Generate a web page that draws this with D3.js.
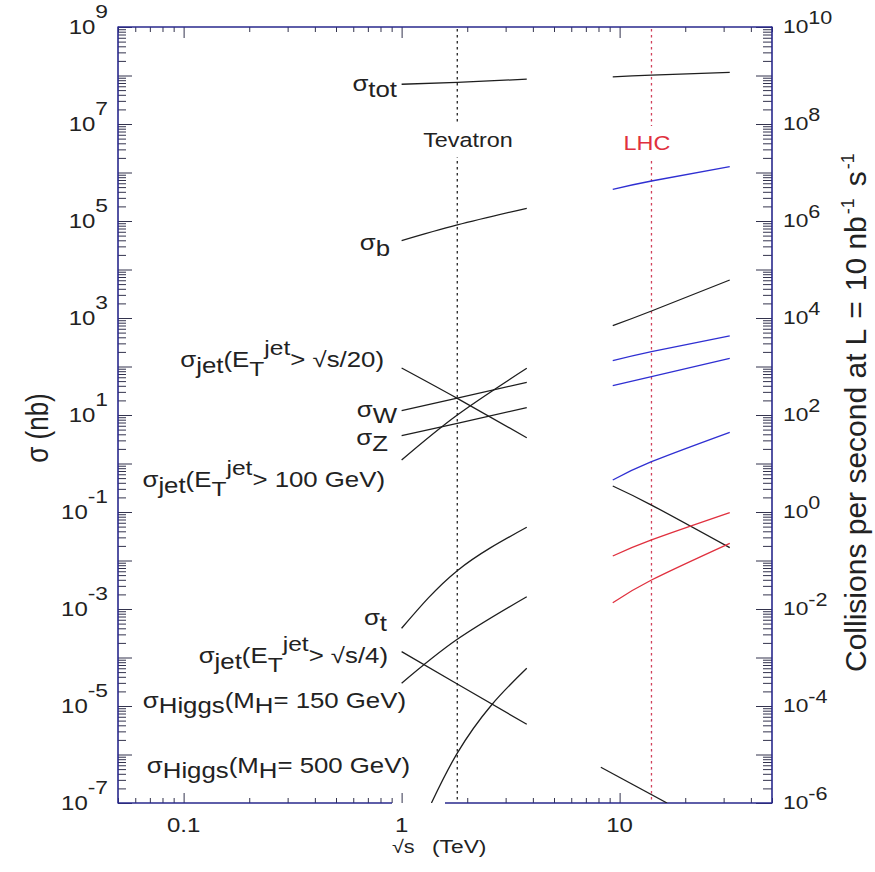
<!DOCTYPE html>
<html><head><meta charset="utf-8">
<script src="https://cdn.jsdelivr.net/npm/d3@7"></script>
<style>
body{margin:0;background:#fff}
svg{display:block}
text{font-family:"Liberation Sans",Arial,Helvetica,sans-serif;fill:#222}
</style>
</head><body>
<svg id="chart" width="875" height="872"></svg>
<script>
// ---------- data ----------
const xDomain = [0.05, 50];              // sqrt(s) in TeV
const yLeftDomain = [1e-7, 1e9];         // sigma in nb
const yRightDomain = [1e-6, 1e10];       // collisions / s at L = 10 nb^-1 s^-1
const xTickValues = [0.1, 1, 10];
const xTickLabels = ["0.1", "1", "10"];
const leftTickExponents = [9, 7, 5, 3, 1, -1, -3, -5, -7];
const rightTickExponents = [10, 8, 6, 4, 2, 0, -2, -4, -6];
const tevatronSqrtS = 1.8;
const lhcSqrtS = 14;

const tevEnergy = [1.0, 1.8, 3.75];
const tevSigmaTot = [6.6e7, 7.2e7, 8.4e7];
const tevSigmaB = [3.93e4, 8.28e4, 1.83e5];
const tevSigmaJetS20 = [93, 22, 3.4];
const tevSigmaW = [12.3, 22.3, 47.2];
const tevSigmaZ = [3.74, 6.7, 14.2];
const tevSigmaJet100 = [1.18, 10, 91.8];
const tevSigmaTop = [4.0e-4, 6.17e-3, 4.84e-2];
const tevSigmaJetS4 = [1.32e-4, 2.84e-5, 4.2e-6];
const tevSigmaH150 = [2.94e-5, 2.37e-4, 1.79e-3];
const tevEnergyH500 = [1.37, 1.8, 2.585, 3.75];
const tevSigmaH500 = [1e-7, 1.07e-6, 1.05e-5, 6.0e-5];

const lhcEnergy = [9.3, 14, 32];
const lhcSigmaTot = [9.4e7, 1.02e8, 1.16e8];
const lhcSigmaB = [4.5e5, 6.68e5, 1.32e6];
const lhcSigmaJetS20 = [693, 1393, 6080];
const lhcSigmaW = [131.5, 202, 426];
const lhcSigmaZ = [40.2, 61.7, 147.6];
const lhcSigmaJet100 = [0.457, 1.09, 4.40];
const lhcSigmaJetS4 = [0.344, 0.139, 0.0184];
const lhcSigmaTop = [0.0124, 0.0265, 0.0968];
const lhcSigmaH150 = [1.35e-3, 3.96e-3, 2.26e-2];
const lhcEnergyH500 = [8.2, 16.5];
const lhcSigmaH500 = [5.45e-7, 1e-7];

const BLACK = "#1e1e1e", BLUE = "#2f2fd2", RED = "#e0303e";
const series = [
  [tevEnergy, tevSigmaTot, BLACK], [tevEnergy, tevSigmaB, BLACK],
  [tevEnergy, tevSigmaJetS20, BLACK], [tevEnergy, tevSigmaW, BLACK],
  [tevEnergy, tevSigmaZ, BLACK], [tevEnergy, tevSigmaJet100, BLACK],
  [tevEnergy, tevSigmaTop, BLACK], [tevEnergy, tevSigmaJetS4, BLACK],
  [tevEnergy, tevSigmaH150, BLACK], [tevEnergyH500, tevSigmaH500, BLACK],
  [lhcEnergy, lhcSigmaTot, BLACK], [lhcEnergy, lhcSigmaB, BLUE],
  [lhcEnergy, lhcSigmaJetS20, BLACK], [lhcEnergy, lhcSigmaW, BLUE],
  [lhcEnergy, lhcSigmaZ, BLUE], [lhcEnergy, lhcSigmaJet100, BLUE],
  [lhcEnergy, lhcSigmaJetS4, BLACK], [lhcEnergy, lhcSigmaTop, RED],
  [lhcEnergy, lhcSigmaH150, RED], [lhcEnergyH500, lhcSigmaH500, BLACK]
];

// curve labels: parts [text, role] role: "" main, "sub", "sup", "esub" (E_T subscript)
const curveLabels = [
  [["σ",""],["tot","sub"]],
  [["σ",""],["b","sub"]],
  [["σ",""],["jet","sub"],["(E",""],["T","esub"],["jet","sup"],["> √s/20)",""]],
  [["σ",""],["W","sub"]],
  [["σ",""],["Z","sub"]],
  [["σ",""],["jet","sub"],["(E",""],["T","esub"],["jet","sup"],["> 100 GeV)",""]],
  [["σ",""],["t","sub"]],
  [["σ",""],["jet","sub"],["(E",""],["T","esub"],["jet","sup"],["> √s/4)",""]],
  [["σ",""],["Higgs","sub"],["(M",""],["H","sub"],["= 150 GeV)",""]],
  [["σ",""],["Higgs","sub"],["(M",""],["H","sub"],["= 500 GeV)",""]]
];
// layout (right end x, baseline y) of each curve label
const curveLabelPos = [[397,91],[390,250],[384,367],[397,417],[388,445],[385,487],[387,625],[388,663],[406,708],[410,773]];

// ---------- layout ----------
const L = 118, R = 772, T = 27, B = 803;
const SX = 1.2; // horizontal stretch of the reference glyphs
const AXIS = "#28288c", TICK = "#33334d";

const svg = d3.select("#chart");
const x = d3.scaleLog().domain(xDomain).range([L, R]);
const y = d3.scaleLog().domain(yLeftDomain).range([B, T]);
const yR = d3.scaleLog().domain(yRightDomain).range([B, T]);

function minors(lo, hi, top) {
  const out = [];
  for (let e = lo; e < hi; e++) for (let k = 2; k <= 9; k++) {
    const v = k * Math.pow(10, e);
    if (v <= top * 1.0001) out.push(v);
  }
  return out;
}
function decades(lo, hi) { return d3.range(lo, hi + 1).map(e => Math.pow(10, e)); }

function styleAxis(g) {
  g.select(".domain").remove();
  g.selectAll(".tick line").attr("stroke", TICK).attr("stroke-width", 1);
  g.attr("color", TICK);
}

// left axis ticks (inward)
svg.append("g").attr("transform", `translate(${L},0)`)
  .call(d3.axisLeft(y).tickValues(minors(-7, 9, 1e9)).tickSize(-8).tickFormat(""))
  .call(styleAxis);
svg.append("g").attr("transform", `translate(${L},0)`)
  .call(d3.axisLeft(y).tickValues(decades(-7, 9)).tickSize(-14).tickFormat(""))
  .call(styleAxis);
// right axis ticks (inward)
svg.append("g").attr("transform", `translate(${R},0)`)
  .call(d3.axisRight(yR).tickValues(minors(-6, 10, 1e10)).tickSize(-9).tickFormat(""))
  .call(styleAxis);
svg.append("g").attr("transform", `translate(${R},0)`)
  .call(d3.axisRight(yR).tickValues(decades(-6, 10)).tickSize(-16).tickFormat(""))
  .call(styleAxis);
// bottom / top ticks
const xMinor = minors(-2, 2, 50).filter(v => v >= 0.05);
const xMajor = [0.1, 1, 10];
svg.append("g").attr("transform", `translate(0,${B})`)
  .call(d3.axisBottom(x).tickValues(xMinor).tickSize(-5).tickFormat("")).call(styleAxis);
svg.append("g").attr("transform", `translate(0,${B})`)
  .call(d3.axisBottom(x).tickValues(xMajor).tickSize(-10).tickFormat("")).call(styleAxis);
svg.append("g").attr("transform", `translate(0,${T})`)
  .call(d3.axisTop(x).tickValues(xMinor).tickSize(-5).tickFormat("")).call(styleAxis);
svg.append("g").attr("transform", `translate(0,${T})`)
  .call(d3.axisTop(x).tickValues(xMajor).tickSize(-11).tickFormat("")).call(styleAxis);

// frame
const frame = svg.append("g").attr("stroke", AXIS).attr("stroke-width", 1.6).attr("fill", "none");
frame.append("line").attr("x1", L).attr("x2", L).attr("y1", T - 0.5).attr("y2", B + 0.5);
frame.append("line").attr("x1", R).attr("x2", R).attr("y1", T - 0.5).attr("y2", B + 0.5);
frame.append("line").attr("x1", L).attr("x2", R).attr("y1", T).attr("y2", T);
frame.append("line").attr("x1", L).attr("x2", 392).attr("y1", B).attr("y2", B);
frame.append("line").attr("x1", 445).attr("x2", R).attr("y1", B).attr("y2", B);

// collider reference lines (under the label backgrounds)
const refLayer = svg.append("g");
const labelBgLayer = svg.append("g");

// stretched text helper
function stext(px, py, anchor, size, parts, opts = {}) {
  const sx = opts.sx ?? SX;
  const g = svg.append("g").attr("transform", `translate(${px},${py}) scale(${sx},1)` + (opts.rotate ? ` rotate(${opts.rotate})` : ""));
  const t = g.append("text").attr("text-anchor", anchor).attr("font-size", size);
  if (opts.fill) t.style("fill", opts.fill);
  let cur = 0;
  parts.forEach(([s, role, dx]) => {
    const off = role === "sub" ? (opts.sub ?? 6) : role === "esub" ? 9 : role === "sup" ? -12 : role === "exp" ? (opts.exp ?? -16) : 0;
    const fs = role === "exp" ? (opts.expSize ?? size - 1) : role === "sup" || role === "esub" ? size - 1 : size;
    const ts = t.append("tspan").attr("dy", off - cur).attr("font-size", fs).text(s);
    if (dx) ts.attr("dx", dx);
    cur = off;
  });
  return t;
}

// y tick labels
leftTickExponents.forEach(e => {
  stext(108, y(Math.pow(10, e)) + 7, "end", 20, [["10", ""], [String(e), "exp"]], {exp: -16, expSize: 19});
});
rightTickExponents.forEach(e => {
  stext(783, yR(Math.pow(10, e)) + 6, "start", 19, [["10", ""], [String(e), "exp"]], {exp: -9, expSize: 18});
});
// x tick labels
xTickValues.forEach((v, i) => {
  stext(x(v), 832, "middle", 20, [[xTickLabels[i], ""]]);
});
// axis titles
stext(392, 853, "start", 18, [["√s", ""]]);
stext(432, 853, "start", 19, [["(TeV)", ""]]);
stext(48, 428, "middle", 26, [["σ (nb)", ""]], {rotate: -90});
stext(866, 672, "start", 30, [
  ["Collisions per second at", ""], ["L", "", 8], ["=", "", 10], ["10 nb", "", 10],
  ["-1", "exp", 2], ["s", "", 12], ["-1", "exp", 2]
], {rotate: -90, sx: 1, exp: -12, expSize: 18});

function collider(val, label, color, textColor, cx, by) {
  refLayer.append("line").attr("x1", x(val)).attr("x2", x(val)).attr("y1", T + 2).attr("y2", B - 1)
    .attr("stroke", color).attr("stroke-width", 1.3).attr("stroke-dasharray", "2.5,3.5");
  const t = stext(cx, by, "middle", 19.5, [[label, ""]], {fill: textColor});
  const w = t.node().getComputedTextLength() * SX;
  labelBgLayer.append("rect").attr("x", cx - w / 2 - 2).attr("y", by - 24).attr("width", w + 4).attr("height", 34).attr("fill", "#fff");
}
collider(tevatronSqrtS, "Tevatron", "#222", "#222", 468, 147);
collider(lhcSqrtS, "LHC", "#d2405a", RED, 647, 150);

// curves
svg.append("clipPath").attr("id", "plotclip").append("rect")
  .attr("x", L).attr("y", T).attr("width", R - L).attr("height", B - T);
const line = d3.line().x(d => x(d[0])).y(d => y(d[1])).curve(d3.curveNatural);
const curves = svg.append("g").attr("clip-path", "url(#plotclip)").attr("fill", "none");
series.forEach(([es, vs, c]) => {
  curves.append("path").attr("d", line(es.map((e, i) => [e, vs[i]])))
    .attr("stroke", c).attr("stroke-width", 1.3);
});

// curve labels
curveLabels.forEach((parts, i) => {
  const [px, py] = curveLabelPos[i];
  stext(px, py, "end", 21.5, parts, {sub: i >= 8 ? 5 : 6});
});
</script>
</body></html>
